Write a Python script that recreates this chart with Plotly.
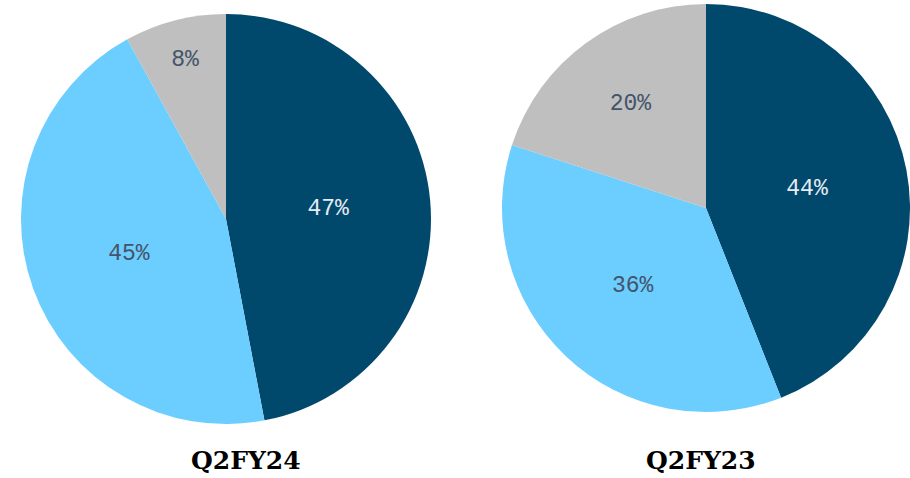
import plotly.graph_objects as go

categories = ["Segment A", "Segment B", "Segment C"]
q2fy24_values = [47, 45, 8]
q2fy23_values = [44, 36, 20]
titles = ["Q2FY24", "Q2FY23"]

colors = ["#00496D", "#6CCDFF", "#BFBFBF"]
text_colors = ["#E6ECF2", "#44546A", "#44546A"]

W, H = 910, 478

fig = go.Figure()

def add_pie(values, x0, x1, y0, y1):
    fig.add_trace(go.Pie(
        labels=categories,
        values=values,
        sort=False,
        direction="clockwise",
        rotation=0,
        marker=dict(colors=colors, line=dict(width=0)),
        texttemplate="%{value}%",
        textposition="inside",
        insidetextorientation="horizontal",
        textfont=dict(family="Liberation Mono, Courier New, monospace", size=23, color=text_colors),
        hoverinfo="label+value",
        showlegend=False,
        domain=dict(x=[x0 / W, x1 / W], y=[1 - y1 / H, 1 - y0 / H]),
    ))

add_pie(q2fy24_values, 21, 431, 14, 424)
add_pie(q2fy23_values, 502, 910, 4, 412)

for t, xc in zip(titles, [246, 701]):
    fig.add_annotation(
        text=f"<b>{t}</b>", x=xc / W, y=1 - 460 / H, xref="paper", yref="paper",
        showarrow=False, xanchor="center", yanchor="middle",
        font=dict(family="DejaVu Serif, Liberation Serif, serif", size=25, color="#000000"),
    )

fig.update_layout(
    width=W, height=H,
    margin=dict(l=0, r=0, t=0, b=0),
    paper_bgcolor="white", plot_bgcolor="white",
    uniformtext=dict(minsize=10, mode="show"),
)

fig.write_html(
    "out.html",
    config={"displayModeBar": False},
    post_script="document.body.style.margin='0';document.body.style.overflow='hidden';",
)
